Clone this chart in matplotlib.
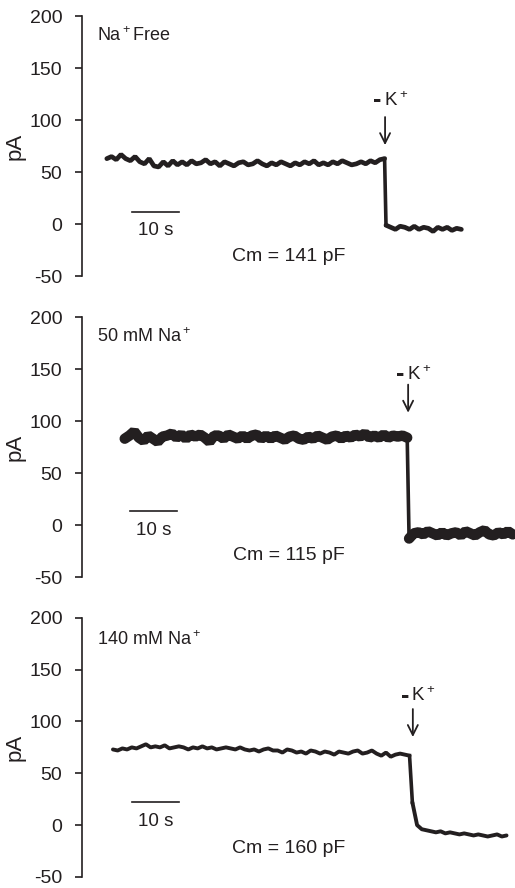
import numpy as np
import matplotlib
matplotlib.use('Agg')
import matplotlib.pyplot as plt

plt.rcParams['font.family'] = ['Liberation Sans', 'DejaVu Sans']
plt.rcParams['mathtext.fontset'] = 'custom'
plt.rcParams['mathtext.rm'] = 'Liberation Sans'
plt.rcParams['mathtext.default'] = 'regular'
plt.rcParams['axes.unicode_minus'] = False

INK = '#231f20'

labels = ['Na$^+$Free', '50 mM Na$^+$', '140 mM Na$^+$']
cm_labels = ['Cm = 141 pF', 'Cm = 115 pF', 'Cm = 160 pF']
yticks = [-50, 0, 50, 100, 150, 200]

pre_start = [5.3, 9.1, 6.6]       # s
post_start = [64.6, 69.5, 70.2]   # s, first sample after K+ removal
washout = [64.4, 69.3, 70.3]      # s, arrow position

pre_nafree = [63, 65, 62, 67, 63, 61,
              65, 60, 58, 63, 56, 55, 60, 56, 61, 57,
              60, 57, 61, 58, 59, 62, 58, 60, 56, 60,
              58, 56, 59, 60, 57, 58, 61, 58, 56, 59,
              57, 60, 58, 56, 59, 57, 60, 58, 61, 57,
              59, 57, 60, 58, 61, 59, 57, 58, 60, 58,
              61, 59, 62, 63]
post_nafree = [-1, -3, -5, -2, -3, -5, -2, -5, -3, -4, -7, -3, -5, -3, -6, -4, -5]

pre_na50 = [83,
            86, 90, 84, 81, 86, 83, 80, 85, 86, 88,
            84, 87, 83, 87, 85, 87, 84, 80, 86, 86,
            83, 87, 85, 83, 86, 83, 86, 87, 83, 86,
            83, 86, 84, 82, 85, 86, 83, 82, 85, 83,
            86, 84, 82, 85, 86, 83, 86, 84, 87, 85,
            88, 84, 86, 84, 87, 84, 86, 85, 86, 84]
post_na50 = [-13, -8, -7, -9, -6, -8, -10, -7, -10, -8, -7, -10,
             -6, -8, -10, -7, -5, -9, -10, -7, -9, -6, -9]

pre_na140 = [73, 72, 74, 73, 75, 74, 76, 78, 75, 76,
             75, 77, 74, 75, 76, 75, 73, 75, 74, 76,
             74, 75, 73, 74, 75, 74, 73, 75, 73, 72,
             73, 71, 73, 74, 72, 72, 70, 73, 72, 70,
             71, 69, 72, 71, 69, 71, 70, 68, 71, 70,
             69, 71, 72, 69, 70, 72, 69, 67, 70, 66,
             68, 69, 68, 67]
post_na140 = [22, 0, -4, -5, -6, -7, -6, -8, -7, -8, -9, -8,
              -9, -10, -9, -10, -11, -10, -9, -11, -10]

pre_traces = [pre_nafree, pre_na50, pre_na140]
post_traces = [post_nafree, post_na50, post_na140]

# annotation anchors (data coords: s, pA)
bar_start = [10.6, 10.2, 10.6]
bar_y = [11.5, 13.5, 22]
bar_txt_y = [-6, -5, 3]
cm_y = [-31, -29, -23]
label_y = [181, 181, 179]
arrow_top = [103, 135, 112]
arrow_tip = [76, 108, 85]
k_y = [119, 145, 125]

# %% layout
fig = plt.figure(figsize=(5.15, 8.88), dpi=100)
axes_pos = [[0.159, 0.689, 0.841, 0.2928],
            [0.159, 0.3502, 0.841, 0.2928],
            [0.159, 0.0125, 0.841, 0.2917]]
trace_lw = [3.4, 7.5, 2.8]

for i, pos in enumerate(axes_pos):
    ax = fig.add_axes(pos)
    pre = np.array(pre_traces[i], dtype=float)
    post = np.array(post_traces[i], dtype=float)
    t_pre = pre_start[i] + np.arange(len(pre))
    t_post = post_start[i] + np.arange(len(post))

    ax.plot(t_pre, pre, color=INK, lw=trace_lw[i], solid_capstyle='round',
            solid_joinstyle='bevel')
    ax.plot(t_post, post, color=INK, lw=trace_lw[i], solid_capstyle='round',
            solid_joinstyle='bevel')
    ax.plot([t_pre[-1], t_post[0]], [pre[-1], post[0]], color=INK, lw=2.6)

    # scale bar
    ax.plot([bar_start[i], bar_start[i] + 10], [bar_y[i], bar_y[i]], color=INK, lw=1.2)
    ax.text(bar_start[i] + 5, bar_txt_y[i], '10 s', ha='center', va='center',
            fontsize=13.5, color=INK)
    ax.text(44, cm_y[i], cm_labels[i], ha='center', va='center', fontsize=14, color=INK)
    ax.text(3.3, label_y[i], labels[i], ha='left', va='center', fontsize=13, color=INK)

    # K+ washout arrow
    ax.annotate('', xy=(washout[i], arrow_tip[i]), xytext=(washout[i], arrow_top[i]),
                arrowprops=dict(arrowstyle='->', color=INK, lw=1.3,
                                mutation_scale=18, shrinkA=0, shrinkB=0))
    ax.text(washout[i] - 0.7, k_y[i], '-', ha='right', va='center', fontsize=18,
            fontweight='bold', color=INK)
    ax.text(washout[i] - 0.3, k_y[i], 'K$^+$', ha='left', va='center', fontsize=13.5, color=INK)

    ax.set_xlim(0, 92)
    ax.set_ylim(-50, 200)
    ax.set_yticks(yticks)
    ax.tick_params(axis='y', direction='out', length=5, width=1.2, pad=9,
                   labelsize=14, colors=INK)
    ax.set_xticks([])
    for side in ['top', 'right', 'bottom']:
        ax.spines[side].set_visible(False)
    ax.spines['left'].set_linewidth(1.2)
    ax.spines['left'].set_color(INK)
    ax.set_ylabel('pA', fontsize=16, color=INK, labelpad=3)
    ax.patch.set_alpha(0)

fig.savefig('out.png', dpi=100)
